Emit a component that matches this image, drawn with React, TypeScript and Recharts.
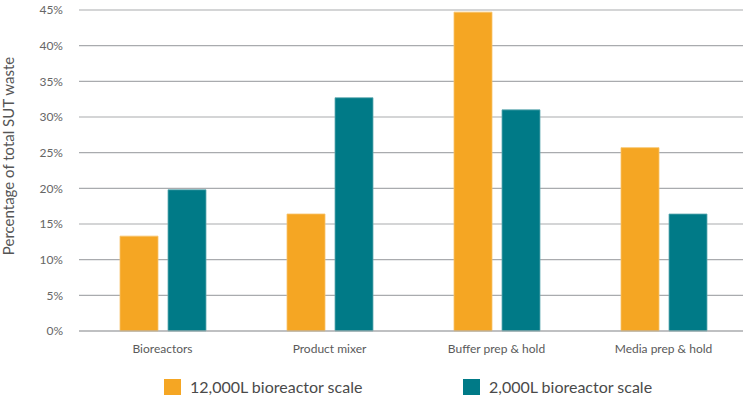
import React from "react";
import { BarChart, Bar, XAxis, YAxis, CartesianGrid, Legend, Label } from "recharts";

const categories = ["Bioreactors", "Product mixer", "Buffer prep & hold", "Media prep & hold"];
const scale12000 = [13.3, 16.4, 44.7, 25.7];
const scale2000 = [19.8, 32.7, 31.0, 16.4];
const yTicks = [0, 5, 10, 15, 20, 25, 30, 35, 40, 45];
const seriesNames = ["12,000L bioreactor scale", "2,000L bioreactor scale"];
const seriesColors = ["#F5A623", "#007A87"];
const seriesEdges = ["#F8C36A", "#5FA9B1"];

const data = categories.map((c, i) => ({ name: c, a: scale12000[i], b: scale2000[i] }));

const FONT = "Lato, 'Open Sans', sans-serif";

const LegendContent = () => (
  <svg width={743} height={24} style={{ display: "block", overflow: "visible" }}>
    {seriesNames.map((n, i) => {
      const x = i === 0 ? 164 : 463;
      return (
        <g key={n}>
          <rect x={x} y={4} width={17} height={16} fill={seriesColors[i]} />
          <text x={x + 26} y={18} fontSize={16} fill="#4a4a4a" fontFamily={FONT}>
            {n}
          </text>
        </g>
      );
    })}
  </svg>
);

export default function App() {
  return (
    <div style={{ position: "absolute", left: 0, top: 0, width: 743, height: 399, overflow: "hidden", background: "#fff" }}>
      <BarChart
        width={747}
        height={399}
        data={data}
        margin={{ top: 10, right: 0, bottom: 38, left: 0 }}
        barSize={38}
        barGap={10}
      >
        <CartesianGrid vertical={false} stroke="#A9ABAE" strokeWidth={1.2} />
        <XAxis
          dataKey="name"
          axisLine={{ stroke: "#A9ABAE", strokeWidth: 1.2 }}
          tickLine={false}
          tickSize={0}
          tickMargin={13}
          height={30}
          tick={{ fill: "#5a5a5a", fontSize: 12, fontFamily: FONT }}
        />
        <YAxis
          domain={[0, 45]}
          ticks={yTicks}
          width={79}
          axisLine={false}
          tickLine={false}
          tickSize={0}
          tickMargin={16}
          tickFormatter={(v: number) => `${v}%`}
          tick={{ fill: "#666", fontSize: 12, fontFamily: FONT }}
        >
          <Label
            content={() => (
              <text
                x={14}
                y={156}
                transform="rotate(-90, 14, 156)"
                textAnchor="middle"
                fill="#555"
                fontSize={15}
                fontFamily={FONT}
              >
                Percentage of total SUT waste
              </text>
            )}
          />
        </YAxis>
        <Legend
          layout="horizontal"
          verticalAlign="middle"
          align="center"
          content={<LegendContent />}
          wrapperStyle={{ top: 375, left: 0, width: 743, height: 24 }}
        />
        <Bar dataKey="a" name={seriesNames[0]} fill={seriesColors[0]} stroke={seriesEdges[0]} strokeWidth={0.8} isAnimationActive={false} />
        <Bar dataKey="b" name={seriesNames[1]} fill={seriesColors[1]} stroke={seriesEdges[1]} strokeWidth={0.8} isAnimationActive={false} />
      </BarChart>
    </div>
  );
}
